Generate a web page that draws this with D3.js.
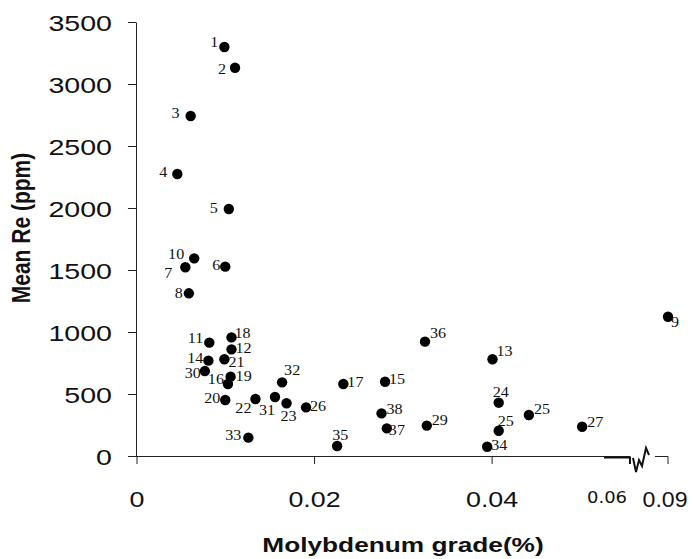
<!DOCTYPE html>
<html>
<head>
<meta charset="utf-8">
<script src="https://cdn.jsdelivr.net/npm/d3@7"></script>
<style>
  body { margin: 0; background: #fff; }
  svg { display: block; }
</style>
</head>
<body>
<svg id="chart" width="693" height="559"></svg>
<script>
// deposit ids, Mo grade (%) and mean Re (ppm)
const ids = ["1","2","3","4","5","6","7","8","9","10","11","12","13","14","15","16","17","18","19","20",
             "21","22","23","24","25","25","26","27","29","30","31","32","33","34","35","36","37","38"];
const moGrade = [0.0099,0.0111,0.0061,0.0046,0.0104,0.0100,0.0055,0.0059,0.09,0.0065,
                 0.0082,0.0107,0.0401,0.0081,0.0280,0.0103,0.0233,0.0107,0.0106,0.0100,
                 0.0099,0.0134,0.0169,0.0408,0.0442,0.0408,0.0191,0.0502,0.0327,0.0077,
                 0.0156,0.0164,0.0126,0.0395,0.0226,0.0325,0.0282,0.0276];
const rePpm = [3298,3131,2742,2274,1992,1527,1522,1312,1123,1594,
               914,860,780,769,599,581,581,957,640,452,
               780,460,425,430,331,204,392,236,245,685,
               476,594,148,75,81,922,223,344];

const yTicks = [0,500,1000,1500,2000,2500,3000,3500];
const xTicks = [0,0.02,0.04];

// label placement next to each dot: [anchor, dx, dy]
const labelPos = [
  ["end",-6,0],["end",-9,6],["end",-11,2],["end",-10,3],["end",-11,4],["end",-5,3],["end",-13,11],["end",-6,5],["start",3,10],["end",-10,1],
  ["end",-6,0],["start",4,4],["start",4,-3],["end",-5,2],["start",4,2],["end",-4,0],["start",4,3],["start",3,1],["start",5,4],["end",-5,3],
  ["start",4,8],["end",-4,14],["start",-6,18],["start",-6,-6],["start",5,-1],["start",-1,-5],["start",4,4],["start",5,0],["start",5,-1],["end",-4,7],
  ["end",0,18],["start",2,-7],["end",-7,2],["start",4,3],["start",-5,-6],["start",5,-4],["start",2,7],["start",5,1]
];

const points = ids.map((id, i) => ({ id, x: moGrade[i], y: rePpm[i], lp: labelPos[i] }));

const svg = d3.select("#chart");
const font = "Liberation Sans, Arial, sans-serif";

// broken x axis: 0..0.053 linear, then jump to 0.09
const breakAt = 0.053;
const x = d3.scaleLinear().domain([0, breakAt, 0.09]).range([136.5, 607, 668]);
const y = d3.scaleLinear().domain([0, 3500]).range([456, 22]);

// y axis
const yAxis = svg.append("g")
    .attr("transform", "translate(136,0)")
    .call(d3.axisLeft(y).tickValues(yTicks).tickSize(8).tickPadding(0).tickSizeOuter(0)
        .tickFormat(d3.format("d")));
yAxis.select(".domain").attr("stroke", "#222");
yAxis.selectAll(".tick line").attr("stroke", "#222");
yAxis.selectAll(".tick text")
    .attr("x", null).attr("dy", null)
    .attr("transform", "translate(-24,8) scale(1.3,1)")
    .attr("font-family", font)
    .attr("font-size", 22)
    .attr("fill", "#111");

// x axis (domain drawn by hand because of the break)
const xAxis = svg.append("g")
    .attr("transform", "translate(0,456)")
    .call(d3.axisBottom(x).tickValues(xTicks).tickSize(8).tickSizeOuter(0)
        .tickFormat(d => d === 0 ? "0" : d3.format(".2f")(d)));
xAxis.select(".domain").remove();
xAxis.selectAll(".tick line").attr("stroke", "#222");
xAxis.selectAll(".tick text")
    .attr("y", null).attr("dy", null)
    .attr("transform", "translate(0,51) scale(1.22,1)")
    .attr("font-family", font)
    .attr("font-size", 22)
    .attr("fill", "#111");

const xb = x(breakAt) - 3;   // start of the thick bit before the break
const xe = xb + 26;          // end of main axis
svg.append("line").attr("x1", 136).attr("x2", xe).attr("y1", 456.5).attr("y2", 456.5)
    .attr("stroke", "#222").attr("stroke-width", 1);
svg.append("path")
    .attr("d", `M${xb},457.5 H${xe} V464`)
    .attr("fill", "none").attr("stroke", "#111").attr("stroke-width", 2);
// zigzag break mark
svg.append("path")
    .attr("d", `M${xe + 3},458 L${xe + 6},472 L${xe + 9},460 L${xe + 12},466 L${xe + 16},448 L${xe + 19},455`)
    .attr("fill", "none").attr("stroke", "#111").attr("stroke-width", 2);
svg.append("path")
    .attr("d", `M${xe + 25},456.5 H${x(0.09)} V464`)
    .attr("fill", "none").attr("stroke", "#222").attr("stroke-width", 1);

svg.append("text")
    .attr("transform", `translate(${x(breakAt)},503) scale(1.2,1)`)
    .attr("text-anchor", "middle")
    .attr("font-family", "DejaVu Sans, Verdana, sans-serif")
    .attr("font-size", 15)
    .attr("fill", "#111")
    .text("0.06");
svg.append("text")
    .attr("transform", `translate(${x(0.09) - 3},507) scale(1.05,1)`)
    .attr("text-anchor", "middle")
    .attr("font-family", font)
    .attr("font-size", 22)
    .attr("fill", "#111")
    .text("0.09");

// axis titles
svg.append("text")
    .attr("transform", "translate(403,552) scale(1.25,1)")
    .attr("text-anchor", "middle")
    .attr("font-family", font)
    .attr("font-weight", "bold")
    .attr("font-size", 21)
    .attr("fill", "#111")
    .text("Molybdenum grade(%)");
svg.append("text")
    .attr("transform", "translate(30,228) scale(1.2,1) rotate(-90)")
    .attr("text-anchor", "middle")
    .attr("font-family", font)
    .attr("font-weight", "bold")
    .attr("font-size", 21)
    .attr("fill", "#111")
    .text("Mean Re (ppm)");

// dots
svg.append("g").selectAll("circle")
    .data(points)
    .join("circle")
    .attr("cx", d => x(d.x))
    .attr("cy", d => y(d.y))
    .attr("r", 5.2)
    .attr("fill", "#000");

// dot labels
svg.append("g").selectAll("text")
    .data(points)
    .join("text")
    .attr("transform", d => `translate(${x(d.x) + d.lp[1]},${y(d.y) + d.lp[2]}) scale(1.15,1)`)
    .attr("text-anchor", d => d.lp[0])
    .attr("font-family", "Liberation Serif, Times New Roman, serif")
    .attr("font-size", 14)
    .attr("fill", "#111")
    .text(d => d.id);
</script>
</body>
</html>
